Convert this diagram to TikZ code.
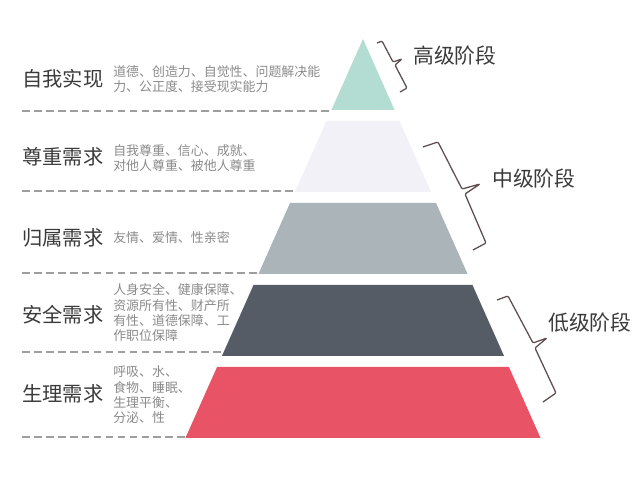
\documentclass[tikz,border=0pt]{standalone}
\usepackage{fontspec}
\newfontfamily\cjk{Noto Sans CJK SC}
\usepackage{tikz}

\definecolor{layerSelf}{HTML}{B3DCD2}
\definecolor{layerEsteem}{HTML}{F1F1F7}
\definecolor{layerLove}{HTML}{AAB4B9}
\definecolor{layerSafety}{HTML}{555C66}
\definecolor{layerBody}{HTML}{E85466}
\definecolor{labelGray}{HTML}{3A3A3A}
\definecolor{detailGray}{HTML}{8A8A8A}
\definecolor{braceBrown}{HTML}{5E4E4E}

\begin{document}
\begin{tikzpicture}[x=0.025cm, y=-0.025cm,
    needlabel/.style={anchor=west, inner sep=0pt, text=labelGray,
        font=\cjk\fontsize{14.4}{16}\selectfont},
    needdetail/.style={anchor=west, inner sep=0pt, align=left, text=detailGray,
        font=\cjk\fontsize{9.2}{10.9}\selectfont},
    stagelabel/.style={anchor=west, inner sep=0pt, text=labelGray,
        font=\cjk\fontsize{14.8}{16}\selectfont},
    sepline/.style={draw=black!38, line width=1.1pt, dash pattern=on 5.5pt off 3pt},
    stagebrace/.style={draw=braceBrown, line width=0.9pt, rounded corners=0.8pt}]
    \useasboundingbox (0,0) rectangle (640,498);

    % Pyramid, cut into five layers
    \foreach \ytop/\layercol in {39/layerSelf, 121/layerEsteem, 203/layerLove, 285/layerSafety, 367/layerBody}{
        \pgfmathsetmacro\ybot{\ytop+71}
        \pgfmathsetmacro\wtop{0.445*(\ytop-39)}
        \pgfmathsetmacro\wbot{0.445*(\ybot-39)}
        \fill[\layercol] ({363-\wtop},\ytop) -- ({363+\wtop},\ytop)
            -- ({363+\wbot},\ybot) -- ({363-\wbot},\ybot) -- cycle;
    }

    % Dashed separators under each row
    \foreach \y in {111,191,273,352,437}
        \draw[sepline] (22,\y) -- ({363-0.445*(\y-39)},\y);

    % LEFT: needs and their contents
    \node[needlabel] (selfLabel) at (22,79) {自我实现};
    \node[needdetail] (selfDetail) at (113,79) {道德、创造力、自觉性、问题解决能\\力、公正度、接受现实能力};

    \node[needlabel] (esteemLabel) at (22,157) {尊重需求};
    \node[needdetail] (esteemDetail) at (113,158) {自我尊重、信心、成就、\\对他人尊重、被他人尊重};

    \node[needlabel] (loveLabel) at (22,238) {归属需求};
    \node[needdetail] (loveDetail) at (113,238) {友情、爱情、性亲密};

    \node[needlabel] (safetyLabel) at (22,315) {安全需求};
    \node[needdetail] (safetyDetail) at (113,313) {人身安全、健康保障、\\资源所有性、财产所\\有性、道德保障、工\\作职位保障};

    \node[needlabel] (bodyLabel) at (22,394) {生理需求};
    \node[needdetail] (bodyDetail) at (113,395) {呼吸、水、\\食物、睡眠、\\生理平衡、\\分泌、性};

    % RIGHT: stage braces
    \draw[stagebrace] (377,43) -- (382,41) -- (393,62) -- (402,59) -- (395,65) -- (407,88) -- (400,92);
    \draw[stagebrace] (423,147) -- (438,142) -- (462,189) -- (480,184) -- (465,194) -- (486,243) -- (473,250);
    \draw[stagebrace] (497,300) -- (508,296) -- (533,343) -- (547,338) -- (535,348) -- (556,393) -- (543,402);

    \node[stagelabel] (highStage) at (413,56) {高级阶段};
    \node[stagelabel] (midStage) at (492,179) {中级阶段};
    \node[stagelabel] (lowStage) at (548,323) {低级阶段};

\end{tikzpicture}
\end{document}
